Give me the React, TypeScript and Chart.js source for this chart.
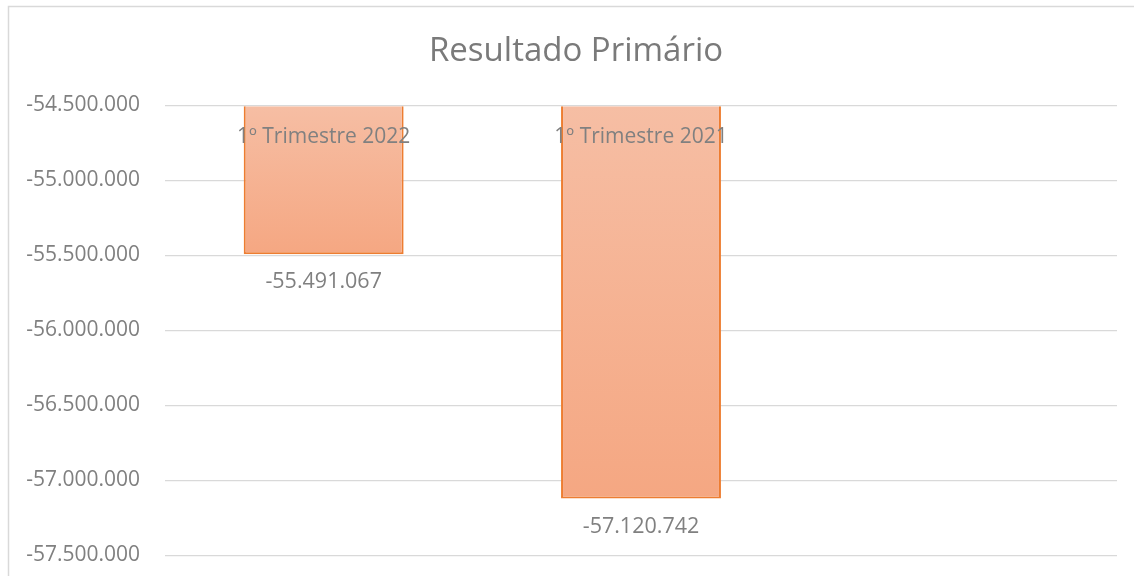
import React, { useEffect, useRef } from "react";
import { Chart, registerables } from "chart.js";

Chart.register(...registerables);

const title = "Resultado Primário";
const categories = ["1º Trimestre 2022", "1º Trimestre 2021", ""];
const values = [-55491067, -57120742, null];
const valueLabels = ["-55.491.067", "-57.120.742", ""];
const yMin = -57500000;
const yMax = -54500000;
const yStep = 500000;

const FONT = "'Open Sans', 'Liberation Sans', sans-serif";
const TEXT = "#808080";

function fmt(v: number): string {
  const neg = v < 0;
  const s = Math.abs(Math.round(v)).toString().replace(/\B(?=(\d{3})+(?!\d))/g, ".");
  return (neg ? "-" : "") + s;
}

const decorPlugin = {
  id: "decor",
  beforeDraw(chart: any) {
    const { ctx, width } = chart;
    ctx.save();
    ctx.fillStyle = "#ffffff";
    ctx.fillRect(0, 0, chart.width, chart.height);
    ctx.strokeStyle = "#d9d9d9";
    ctx.lineWidth = 1.5;
    ctx.beginPath();
    ctx.moveTo(8.5, chart.height + 2);
    ctx.lineTo(8.5, 6.5);
    ctx.lineTo(width + 2, 6.5);
    ctx.stroke();
    ctx.restore();
  },
  afterDraw(chart: any) {
    const { ctx, chartArea } = chart;
    const x = chart.scales.x;
    const y = chart.scales.y;
    ctx.save();
    // title
    ctx.fillStyle = "#7a7a7a";
    ctx.font = `33px ${FONT}`;
    ctx.textAlign = "center";
    ctx.textBaseline = "middle";
    ctx.fillText(title, 576, 52);
    // category labels (axis at top)
    ctx.fillStyle = TEXT;
    ctx.font = `21px ${FONT}`;
    categories.forEach((c, i) => {
      if (!c) return;
      ctx.fillText(c, x.getPixelForValue(i), chartArea.top + 32);
    });
    // value labels
    ctx.font = `21.5px ${FONT}`;
    values.forEach((v, i) => {
      if (v === null) return;
      ctx.fillText(valueLabels[i], x.getPixelForValue(i), y.getPixelForValue(v) + 28);
    });
    ctx.restore();
  },
};

export default function App() {
  const ref = useRef<HTMLCanvasElement | null>(null);
  useEffect(() => {
    if (!ref.current) return;
    const chart = new Chart(ref.current, {
      type: "bar",
      data: {
        labels: categories,
        datasets: [
          {
            data: values as any,
            base: yMax,
            backgroundColor: (ctx: any) => {
              const c = ctx.chart;
              const area = c.chartArea;
              const v = values[ctx.dataIndex];
              if (!area || v === null || v === undefined) return "#f5b192";
              const ys = c.scales.y;
              const top = ys.getPixelForValue(yMax);
              const bot = ys.getPixelForValue(v);
              const g = c.ctx.createLinearGradient(0, top, 0, Math.max(bot, top + 1));
              g.addColorStop(0, "#f6bea4");
              g.addColorStop(1, "#f5a782");
              return g;
            },
            borderColor: "#ed7d31",
            borderWidth: 2,
            borderSkipped: "start",
            barPercentage: 0.504,
            categoryPercentage: 1,
          } as any,
        ],
      },
      options: {
        animation: false,
        responsive: false,
        maintainAspectRatio: false,
        layout: { padding: { left: 0, right: 17, top: 105.5, bottom: 20.5 } },
        plugins: {
          legend: { display: false },
          title: { display: false },
          tooltip: { enabled: false },
        },
        scales: {
          x: {
            display: false,
          },
          y: {
            min: yMin,
            max: yMax,
            afterFit: (s: any) => {
              s.width = 165;
              s.paddingTop = 0;
              s.paddingBottom = 0;
            },
            border: { display: false },
            grid: {
              color: "#d9d9d9",
              lineWidth: 1.3,
              drawTicks: false,
            },
            ticks: {
              stepSize: yStep,
              padding: 25,
              color: TEXT,
              font: { family: FONT, size: 21 },
              callback: (v: any) => fmt(Number(v)),
            },
          },
        },
      },
      plugins: [decorPlugin],
    });
    return () => chart.destroy();
  }, []);
  return (
    <div style={{ position: "fixed", left: 0, top: 0, width: 1134, height: 576, background: "#fff" }}>
      <canvas ref={ref} width={1134} height={576} style={{ width: 1134, height: 576, display: "block" }} />
    </div>
  );
}
